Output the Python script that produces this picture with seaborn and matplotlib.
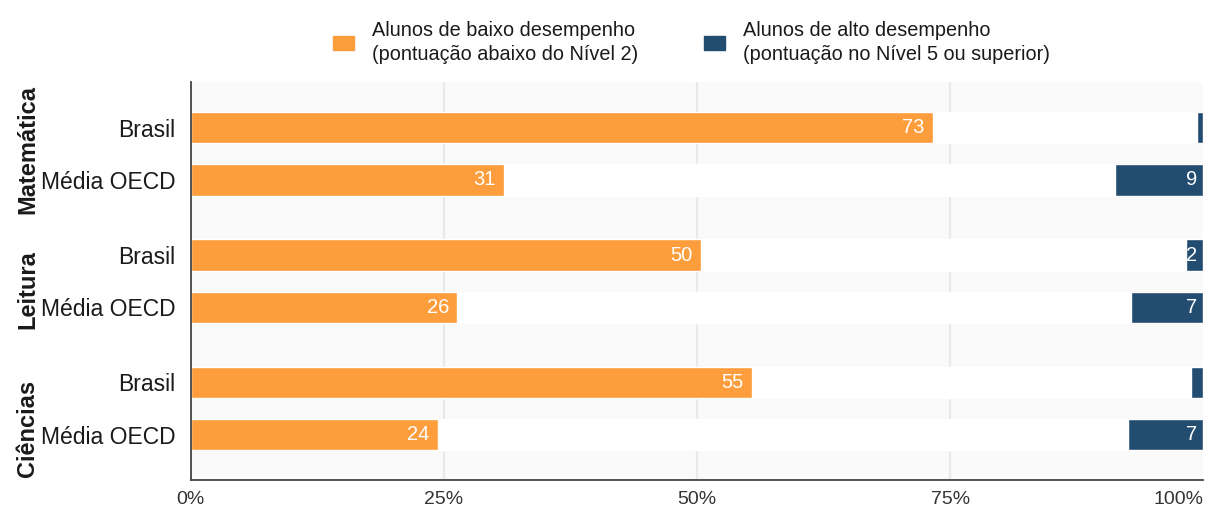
"""PISA: alunos de baixo e alto desempenho, Brasil vs média OECD."""
import matplotlib
matplotlib.use("Agg")
import matplotlib.pyplot as plt
from matplotlib.patches import Patch
import pandas as pd
import seaborn as sns

SUBJECTS = ["Matemática", "Leitura", "Ciências"]
GROUPS = ["Brasil", "Média OECD"]
LOW = [73.3, 30.9, 50.4, 26.3, 55.4, 24.4]   # % abaixo do Nível 2
HIGH = [0.6, 8.7, 1.7, 7.1, 1.2, 7.4]        # % no Nível 5 ou superior
XTICKS = [0, 25, 50, 75, 100]

ORANGE = "#fe9d3c"
BLUE = "#234d70"
GROUP_STEP = 2.44
FACET_Y = [0.42, 3.10, 5.77]


def main() -> None:
    rows = []
    for s, subj in enumerate(SUBJECTS):
        for g, grp in enumerate(GROUPS):
            i = s * len(GROUPS) + g
            rows.append({"subject": subj, "group": grp, "low": LOW[i],
                         "high": HIGH[i], "y": s * GROUP_STEP + g})
    df = pd.DataFrame(rows)
    df["full"] = 100

    sns.set_theme(style="white")
    plt.rcParams["font.family"] = ["Liberation Sans", "DejaVu Sans"]

    fig = plt.figure(figsize=(12.08, 5.14), dpi=100)
    ax = fig.add_axes([0.158, 0.066, 0.838, 0.774])
    ax.set_facecolor("#fafafa")

    for x in XTICKS[1:-1]:
        ax.axvline(x, color="#e9e9e9", lw=1.6, zorder=0)

    # white band behind each row, then the two bars
    sns.barplot(data=df, x="full", y="y", orient="h", native_scale=True,
                color="white", width=0.6, saturation=1, ax=ax, zorder=1)
    sns.barplot(data=df, x="low", y="y", orient="h", native_scale=True,
                color=ORANGE, width=0.6, saturation=1, ax=ax, zorder=2)
    ax.barh(df["y"], df["high"], left=100 - df["high"], height=0.6,
            color=BLUE, zorder=2)

    for _, r in df.iterrows():
        ax.text(r["low"] - 0.8, r["y"], f"{r['low']:.0f}", ha="right",
                va="center", color="white", fontsize=14.5, zorder=3)
        if r["high"] >= 1.5:
            ax.text(99.4, r["y"], f"{r['high']:.0f}", ha="right",
                    va="center", color="white", fontsize=14.5, zorder=3)

    ax.set_xlim(0, 100)
    ax.set_ylim(df["y"].max() + 0.87, -0.87)
    ax.set_xticks(XTICKS)
    ax.set_xticklabels([f"{t}%" for t in XTICKS], fontsize=14, color="#333333")
    ax.get_xticklabels()[-1].set_horizontalalignment("right")
    ax.set_yticks(df["y"])
    ax.set_yticklabels(df["group"], fontsize=16.5, color="#1a1a1a")
    ax.set_xlabel("")
    ax.set_ylabel("")
    ax.tick_params(axis="x", direction="in", length=5, width=1.2,
                   color="#777777", pad=8)
    ax.tick_params(axis="y", length=0, pad=11)
    for side in ["top", "right"]:
        ax.spines[side].set_visible(False)
    for side in ["left", "bottom"]:
        ax.spines[side].set_color("#444444")
        ax.spines[side].set_linewidth(1.3)

    for subj, fy in zip(SUBJECTS, FACET_Y):
        ax.text(-0.161, fy, subj, transform=ax.get_yaxis_transform(),
                rotation=90, ha="center", va="center", fontsize=17,
                fontweight="bold", color="#1a1a1a")

    handles = [Patch(color=ORANGE), Patch(color=BLUE)]
    labels = ["Alunos de baixo desempenho\n(pontuação abaixo do Nível 2)",
              "Alunos de alto desempenho\n(pontuação no Nível 5 ou superior)"]
    leg = fig.legend(handles, labels, loc="upper center",
                     bbox_to_anchor=(0.5725, 0.993), ncol=2, frameon=False,
                     fontsize=14.3, handlelength=1.05, handleheight=0.7,
                     handletextpad=0.9, columnspacing=3.3)
    for t in leg.get_texts():
        t.set_linespacing(1.3)
        t.set_color("#1a1a1a")

    fig.savefig("out.png", dpi=100)
    plt.close(fig)


if __name__ == "__main__":
    main()
